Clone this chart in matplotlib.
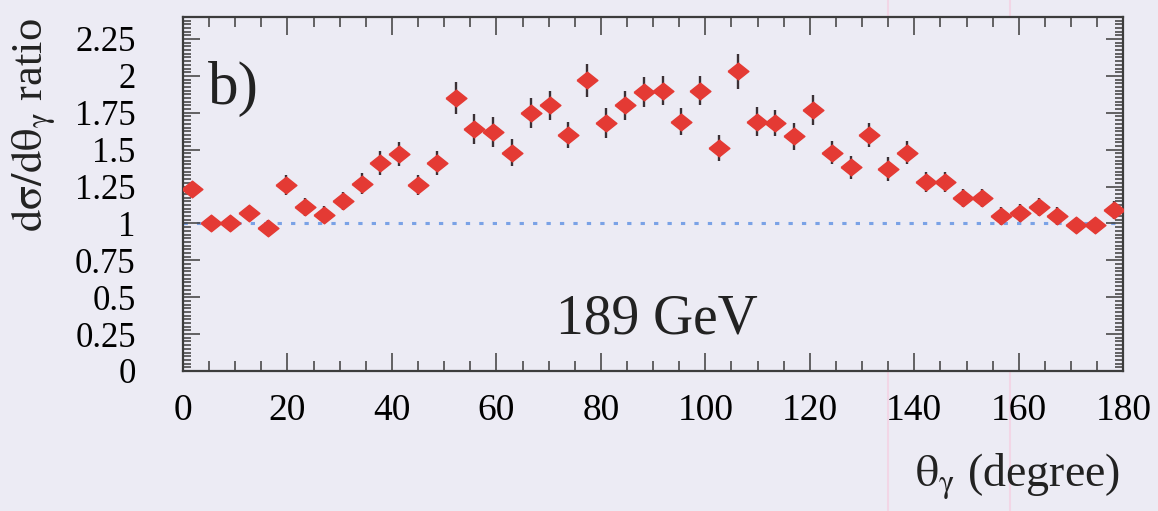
import numpy as np
import matplotlib.pyplot as plt
from matplotlib.lines import Line2D
from matplotlib.ticker import MultipleLocator, FuncFormatter

# photon polar angle bin centres (degree), 3.6 degree bins
theta = [1.8, 5.4, 9.0, 12.6, 16.2, 19.8, 23.4, 27.0, 30.6, 34.2,
         37.8, 41.4, 45.0, 48.6, 52.2, 55.8, 59.4, 63.0, 66.6, 70.2,
         73.8, 77.4, 81.0, 84.6, 88.2, 91.8, 95.4, 99.0, 102.6, 106.2,
         109.8, 113.4, 117.0, 120.6, 124.2, 127.8, 131.4, 135.0, 138.6, 142.2,
         145.8, 149.4, 153.0, 156.6, 160.2, 163.8, 167.4, 171.0, 174.6, 178.2]

# measured / expected differential cross section ratio
ratio = [1.23, 1.00, 1.00, 1.07, 0.97, 1.26, 1.11, 1.06, 1.15, 1.27,
         1.41, 1.47, 1.26, 1.41, 1.85, 1.64, 1.62, 1.48, 1.75, 1.80,
         1.60, 1.97, 1.68, 1.80, 1.89, 1.90, 1.69, 1.90, 1.51, 2.03,
         1.69, 1.68, 1.59, 1.77, 1.48, 1.38, 1.60, 1.37, 1.48, 1.28,
         1.28, 1.17, 1.17, 1.05, 1.07, 1.11, 1.05, 0.99, 0.99, 1.09]

ratio_err = [0.05, 0.05, 0.05, 0.05, 0.05, 0.07, 0.06, 0.06, 0.06, 0.07,
             0.08, 0.08, 0.07, 0.08, 0.11, 0.10, 0.10, 0.09, 0.10, 0.10,
             0.09, 0.11, 0.10, 0.10, 0.10, 0.10, 0.09, 0.10, 0.09, 0.12,
             0.10, 0.09, 0.09, 0.10, 0.08, 0.08, 0.08, 0.08, 0.08, 0.07,
             0.07, 0.06, 0.06, 0.06, 0.06, 0.06, 0.06, 0.05, 0.05, 0.06]

reference_level = 1.0

plt.rcParams['font.family'] = ['Liberation Serif', 'DejaVu Serif']
plt.rcParams['mathtext.fontset'] = 'stix'

bg = '#ecebf4'
fig = plt.figure(figsize=(11.58, 5.11), dpi=100, facecolor=bg)
ax = fig.add_axes([0.158, 0.274, 0.812, 0.693], facecolor=bg)

# expectation line
ax.axhline(reference_level, color='#7aa2e6', lw=2.2, dashes=(1.4, 3.0), zorder=1)

# error bars then diamond markers
ax.errorbar(theta, ratio, yerr=ratio_err, fmt='none', ecolor='#3a3035',
            elinewidth=1.7, capsize=0, zorder=2)
diamond = [(-1, 0), (0, 0.8), (1, 0), (0, -0.8), (-1, 0)]
ax.plot(theta, ratio, linestyle='none', marker=diamond, ms=15,
        color='#e43a34', mec='#e43a34', zorder=3)

ax.set_xlim(0, 180)
ax.set_ylim(0, 2.4)

ax.xaxis.set_major_locator(MultipleLocator(20))
ax.xaxis.set_minor_locator(MultipleLocator(5))
ax.yaxis.set_major_locator(MultipleLocator(0.25))
ax.yaxis.set_minor_locator(MultipleLocator(0.025))
ax.yaxis.set_major_formatter(FuncFormatter(lambda v, p: f"{v:g}"))

ax.tick_params(which='both', direction='in', top=True, right=True,
               color='#4a4a4a', width=1.2)
ax.tick_params(axis='x', which='major', length=13, labelsize=27, pad=16)
ax.tick_params(axis='x', which='minor', length=7)
ax.tick_params(axis='y', which='major', length=12, labelsize=25, pad=34)
ax.tick_params(axis='y', which='minor', length=6)
for s in ax.spines.values():
    s.set_color('#3c3c3c')
    s.set_linewidth(1.6)

ax.text(9.6, 1.91, 'b)', fontsize=44, ha='center', va='center', color='#222222')
ax.text(90.8, 0.35, '189 GeV', fontsize=40, ha='center', va='center', color='#222222')

fig.text(0.029, 0.965, r'$\mathrm{d\sigma/d\theta_{\gamma}}$ ratio', rotation=90,
         fontsize=32, ha='center', va='top', color='#222222')
fig.text(0.967, 0.066, r'$\mathrm{\theta_{\gamma}}$ (degree)', fontsize=33,
         ha='right', va='center', color='#222222')

# faint vertical streaks across the sheet
for xf in (888 / 1158, 1010 / 1158):
    fig.add_artist(Line2D([xf, xf], [0, 1], transform=fig.transFigure,
                          color='#f2d6e6', lw=1.5, zorder=0))

fig.savefig('out.png', dpi=100, facecolor=bg)
